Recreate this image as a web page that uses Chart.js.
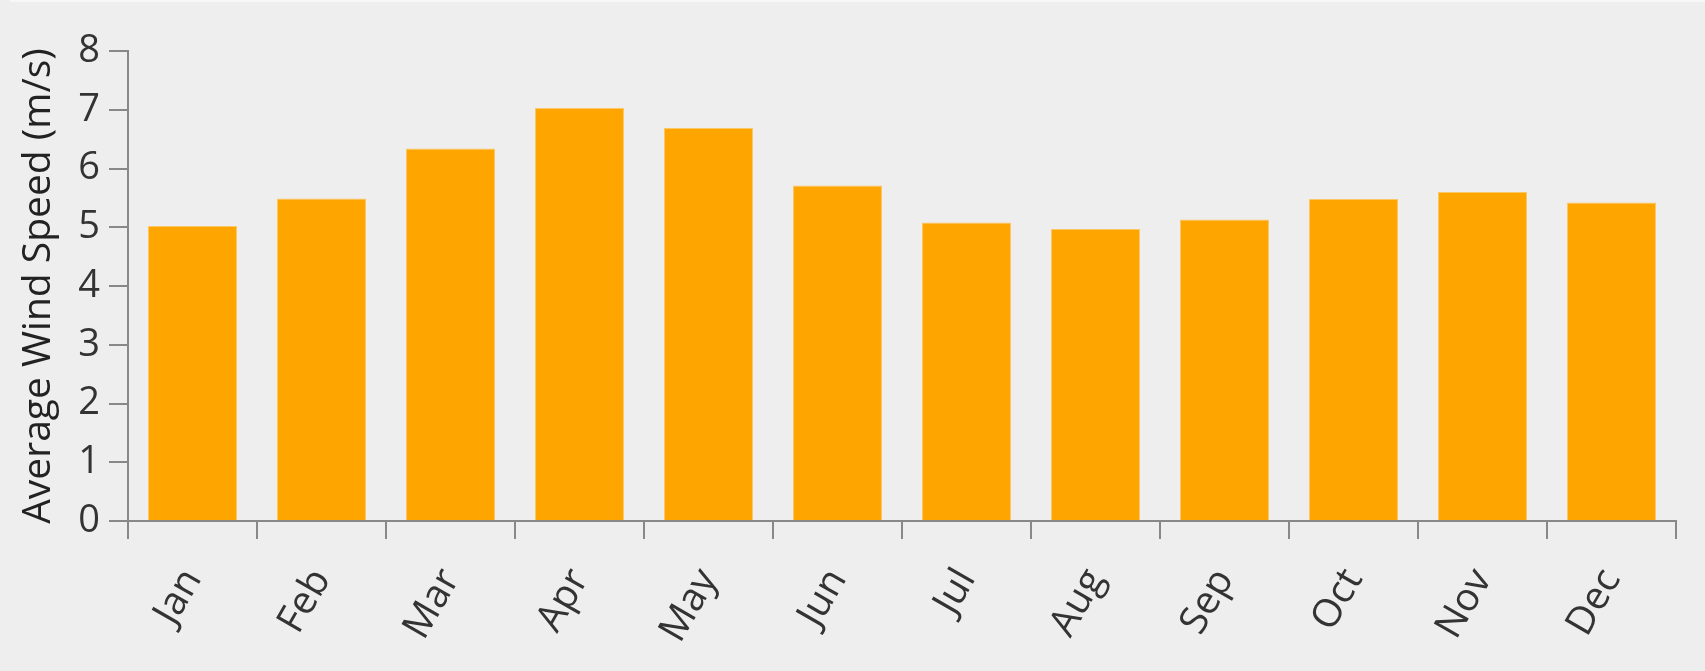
<!DOCTYPE html>
<html>
<head>
<meta charset="utf-8">
<script src="https://cdn.jsdelivr.net/npm/chart.js@4"></script>
<style>
  html, body { margin: 0; padding: 0; background: #eeeeee; }
  #wrap { position: relative; width: 1705px; height: 671px; background: #eeeeee; }
  #strip { position: absolute; left: 10px; top: 0; width: 1695px; height: 2px; background: #f7f7f7; }
  canvas { position: absolute; left: 0; top: 0; }
</style>
</head>
<body>
<div id="wrap">
  <div id="strip"></div>
  <canvas id="c" width="1705" height="671"></canvas>
</div>
<script>
const months = ['Jan','Feb','Mar','Apr','May','Jun','Jul','Aug','Sep','Oct','Nov','Dec'];
const windSpeed = [5.02, 5.49, 6.34, 7.03, 6.69, 5.71, 5.08, 4.97, 5.13, 5.48, 5.60, 5.42];
const yTicks = [0, 1, 2, 3, 4, 5, 6, 7, 8];
const yTitle = 'Average Wind Speed (m/s)';

const FONT = '"Open Sans", "Noto Sans", sans-serif';

new Chart(document.getElementById('c'), {
  type: 'bar',
  data: {
    labels: months,
    datasets: [{
      data: windSpeed,
      backgroundColor: '#ffa500',
      borderColor: '#fcc866',
      borderWidth: 1,
      borderSkipped: 'bottom',
      barPercentage: 0.69,
      categoryPercentage: 1.0
    }]
  },
  options: {
    responsive: false,
    animation: false,
    devicePixelRatio: 1,
    layout: { padding: { top: 51, right: 29, left: 0, bottom: 0 } },
    plugins: { legend: { display: false }, tooltip: { enabled: false } },
    scales: {
      x: {
        grid: { display: true, drawOnChartArea: false, drawTicks: true, tickLength: 18, color: '#888888', lineWidth: 2, offset: true },
        border: { display: true, color: '#888888', width: 2 },
        ticks: {
          color: '#333333',
          font: { family: FONT, size: 39 },
          minRotation: 60, maxRotation: 60,
          padding: 22,
          autoSkip: false
        },
        afterFit: (s) => { s.height = 150; }
      },
      y: {
        min: 0, max: 8,
        afterBuildTicks: (s) => { s.ticks = yTicks.map(v => ({ value: v })); },
        grid: { display: true, drawOnChartArea: false, drawTicks: true, tickLength: 19, color: '#888888', lineWidth: 2 },
        border: { display: true, color: '#888888', width: 2 },
        ticks: {
          color: '#333333',
          font: { family: FONT, size: 38 },
          padding: 9
        },
        title: {
          display: true,
          text: yTitle,
          color: '#222222',
          font: { family: FONT, size: 39 },
          padding: { top: 15, bottom: 0 }
        },
        afterFit: (s) => { s.width = 128; }
      }
    }
  }
});
</script>
</body>
</html>
